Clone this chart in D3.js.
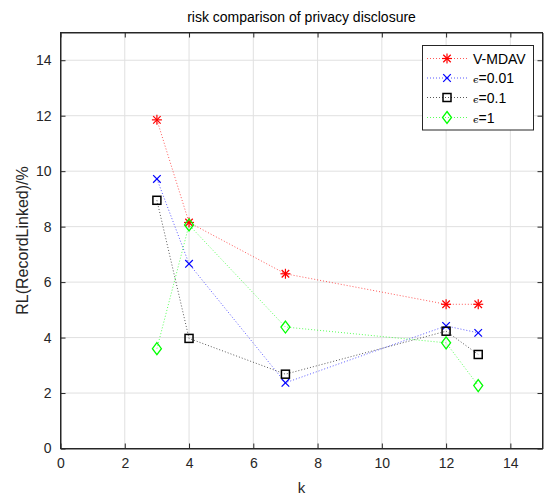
<!DOCTYPE html>
<html><head><meta charset="utf-8">
<script src="https://cdn.jsdelivr.net/npm/d3@7"></script>
<style>body{margin:0;background:#fff}svg{display:block}text{font-family:"Liberation Sans",Arial,sans-serif}</style>
</head><body><svg id="c" width="548" height="499"></svg>
<script>
const kValues = [3, 4, 7, 12, 13];
const vmdav = [11.85, 8.15, 6.3, 5.2, 5.2];
const eps001 = [9.72, 6.66, 2.37, 4.42, 4.17];
const eps01 = [8.95, 3.97, 2.68, 4.23, 3.39];
const eps1 = [3.6, 8.06, 4.38, 3.81, 2.27];
const xTicks = [0, 2, 4, 6, 8, 10, 12, 14];
const yTicks = [0, 2, 4, 6, 8, 10, 12, 14];
const seriesNames = ["V-MDAV", "=0.01", "=0.1", "=1"];
const seriesColors = ["#ff0000", "#0000ff", "#000000", "#00ff00"];
const seriesMarkers = ["star", "cross", "square", "diamond"];
const seriesValues = [vmdav, eps001, eps01, eps1];

const svg = d3.select("#c");
const L = 60.5, R = 542.5, T = 32.5, B = 448.5;
const x = d3.scaleLinear().domain([0, 15]).range([L, R]);
const y = d3.scaleLinear().domain([0, 15]).range([B, T]);

// grid
const g = svg.append("g");
g.selectAll(".gx").data(xTicks.filter(d => d > 0)).enter().append("line")
  .attr("x1", d => x(d)).attr("x2", d => x(d)).attr("y1", T).attr("y2", B)
  .attr("stroke", "#e0e0e0").attr("stroke-width", 1);
g.selectAll(".gy").data(yTicks.filter(d => d > 0)).enter().append("line")
  .attr("y1", d => y(d)).attr("y2", d => y(d)).attr("x1", L).attr("x2", R)
  .attr("stroke", "#e0e0e0").attr("stroke-width", 1);

// axes
const ax = svg.append("g").attr("transform", `translate(0,${B})`)
  .call(d3.axisBottom(x).tickValues(xTicks).tickSize(-5).tickPadding(10).tickSizeOuter(0));
const ay = svg.append("g").attr("transform", `translate(${L},0)`)
  .call(d3.axisLeft(y).tickValues(yTicks).tickSize(-5).tickPadding(9).tickSizeOuter(0));
const axT = svg.append("g").attr("transform", `translate(0,${T})`)
  .call(d3.axisTop(x).tickValues(xTicks).tickSize(-5).tickFormat("").tickSizeOuter(0));
const ayR = svg.append("g").attr("transform", `translate(${R},0)`)
  .call(d3.axisRight(y).tickValues(yTicks).tickSize(-5).tickFormat("").tickSizeOuter(0));
[ax, ay, axT, ayR].forEach(a => {
  a.selectAll("path").attr("stroke", "#262626");
  a.selectAll("line").attr("stroke", "#262626");
  a.selectAll("text").attr("fill", "#262626").style("font-size", "14px")
   .style("font-family", '"Liberation Sans",Arial,sans-serif');
});
svg.append("rect").attr("x", L).attr("y", T).attr("width", R - L).attr("height", B - T)
  .attr("fill", "none").attr("stroke", "#262626").attr("stroke-width", 1);

// markers
function drawMarker(sel, type, color, cx, cy) {
  const s = sel.append("g").attr("transform", `translate(${cx},${cy})`)
    .attr("stroke", color).attr("fill", "none").attr("stroke-width", 1.2);
  if (type === "star") {
    const r = 5;
    s.append("line").attr("x1", -r).attr("x2", r).attr("y1", 0).attr("y2", 0);
    s.append("line").attr("x1", 0).attr("x2", 0).attr("y1", -r).attr("y2", r);
    s.append("line").attr("x1", -r * 0.75).attr("x2", r * 0.75).attr("y1", -r * 0.75).attr("y2", r * 0.75);
    s.append("line").attr("x1", -r * 0.75).attr("x2", r * 0.75).attr("y1", r * 0.75).attr("y2", -r * 0.75);
  } else if (type === "cross") {
    const r = 3.8;
    s.append("line").attr("x1", -r).attr("x2", r).attr("y1", -r).attr("y2", r);
    s.append("line").attr("x1", -r).attr("x2", r).attr("y1", r).attr("y2", -r);
  } else if (type === "square") {
    s.append("rect").attr("x", -4).attr("y", -4).attr("width", 8).attr("height", 8).attr("stroke-width", 1.5);
  } else {
    s.append("path").attr("d", "M0,-6L4.5,0L0,6L-4.5,0Z").attr("stroke-width", 1.3);
  }
}

const line = d3.line().x((d, i) => x(kValues[i])).y(d => y(d));
seriesValues.forEach((vals, si) => {
  svg.append("path").attr("d", line(vals)).attr("fill", "none")
    .attr("stroke", seriesColors[si]).attr("stroke-width", 1)
    .attr("stroke-dasharray", "1,2").attr("opacity", 0.65);
});
seriesValues.forEach((vals, si) => {
  vals.forEach((v, i) => drawMarker(svg, seriesMarkers[si], seriesColors[si], x(kValues[i]), y(v)));
});

// legend
const lg = svg.append("g");
lg.append("rect").attr("x", 422.5).attr("y", 45.5).attr("width", 111).attr("height", 84.5)
  .attr("fill", "#fff").attr("stroke", "#262626").attr("stroke-width", 1);
const ly = [58.5, 78, 97.5, 117.5];
seriesNames.forEach((n, i) => {
  lg.append("line").attr("x1", 427).attr("x2", 467).attr("y1", ly[i]).attr("y2", ly[i])
    .attr("stroke", seriesColors[i]).attr("stroke-dasharray", "1,2").attr("opacity", 0.65);
  drawMarker(lg, seriesMarkers[i], seriesColors[i], 447, ly[i]);
  const t = lg.append("text").attr("x", 473).attr("y", ly[i] + 5).attr("fill", "#000").style("font-size", "14px");
  if (i > 0) {
    t.append("tspan").text("\u03F5").style("font-size", "10px").style("font-family", '"DejaVu Serif",serif').attr("dy", 0);
  }
  t.append("tspan").text(n);
});

// title and labels
svg.append("text").attr("x", 301.5).attr("y", 22).attr("text-anchor", "middle")
  .style("font-size", "14px").attr("fill", "#000").text("risk comparison of privacy disclosure");
svg.append("text").attr("x", 301.5).attr("y", 493).attr("text-anchor", "middle")
  .style("font-size", "15px").attr("fill", "#262626").text("k");
svg.append("text").attr("transform", `translate(28,${(T + B) / 2}) rotate(-90)`).attr("text-anchor", "middle")
  .style("font-size", "16px").attr("fill", "#262626").text("RL(RecordLinked)/%");
</script></body></html>
